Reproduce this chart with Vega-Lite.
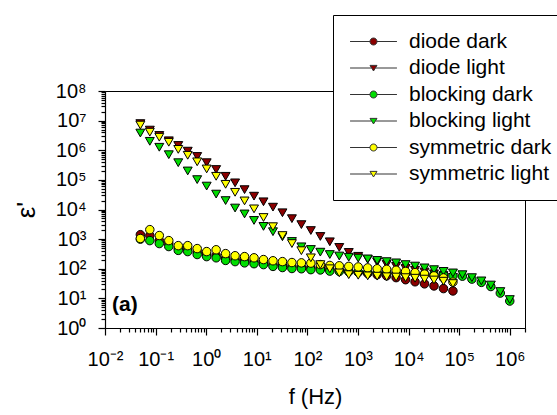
{
"$schema": "https://vega.github.io/schema/vega-lite/v6.json",
"width": 420, "height": 237,
"autosize": {"type": "none"},
"padding": {"left": 105, "top": 91, "right": 32, "bottom": 87},
"background": "white",
"config": {"view": {"stroke": "black", "strokeWidth": 1}, "font": "Liberation Sans"},
"data": {"values": [
{"s":"diode dark","f":0.05,"e":1413},{"s":"diode dark","f":0.0769,"e":1318},{"s":"diode dark","f":0.1184,"e":891},{"s":"diode dark","f":0.1823,"e":708},{"s":"diode dark","f":0.2805,"e":501},{"s":"diode dark","f":0.4315,"e":479},{"s":"diode dark","f":0.664,"e":372},{"s":"diode dark","f":1.022,"e":316},{"s":"diode dark","f":1.573,"e":282},{"s":"diode dark","f":2.42,"e":229},{"s":"diode dark","f":3.724,"e":209},{"s":"diode dark","f":5.731,"e":195},{"s":"diode dark","f":8.82,"e":178},{"s":"diode dark","f":13.57,"e":158},{"s":"diode dark","f":20.89,"e":141},{"s":"diode dark","f":32.14,"e":129},{"s":"diode dark","f":49.46,"e":120},{"s":"diode dark","f":76.12,"e":115},{"s":"diode dark","f":117.1,"e":110},{"s":"diode dark","f":180.3,"e":105},{"s":"diode dark","f":277.4,"e":95.5},{"s":"diode dark","f":426.9,"e":91.2},{"s":"diode dark","f":656.9,"e":83.2},{"s":"diode dark","f":1011,"e":75.9},{"s":"diode dark","f":1556,"e":69.2},{"s":"diode dark","f":2394,"e":63.1},{"s":"diode dark","f":3684,"e":57.5},{"s":"diode dark","f":5669,"e":50.1},{"s":"diode dark","f":8724,"e":42.7},{"s":"diode dark","f":13430,"e":36.3},{"s":"diode dark","f":20660,"e":30.9},{"s":"diode dark","f":31800,"e":26.3},{"s":"diode dark","f":48940,"e":21.4},{"s":"diode dark","f":75310,"e":17.8},
{"s":"diode light","f":0.05,"e":7940000},{"s":"diode light","f":0.0769,"e":4790000},{"s":"diode light","f":0.1184,"e":3160000},{"s":"diode light","f":0.1823,"e":2090000},{"s":"diode light","f":0.2805,"e":1450000},{"s":"diode light","f":0.4315,"e":933000},{"s":"diode light","f":0.664,"e":617000},{"s":"diode light","f":1.022,"e":380000},{"s":"diode light","f":1.573,"e":224000},{"s":"diode light","f":2.42,"e":132000},{"s":"diode light","f":3.724,"e":79400},{"s":"diode light","f":5.731,"e":46800},{"s":"diode light","f":8.82,"e":28200},{"s":"diode light","f":13.57,"e":18200},{"s":"diode light","f":20.89,"e":12000},{"s":"diode light","f":32.14,"e":7760},{"s":"diode light","f":49.46,"e":4900},{"s":"diode light","f":76.12,"e":3090},{"s":"diode light","f":117.1,"e":1950},{"s":"diode light","f":180.3,"e":1230},{"s":"diode light","f":277.4,"e":813},{"s":"diode light","f":426.9,"e":525},{"s":"diode light","f":656.9,"e":355},{"s":"diode light","f":1011,"e":263},{"s":"diode light","f":1556,"e":209},{"s":"diode light","f":2394,"e":170},{"s":"diode light","f":3684,"e":141},{"s":"diode light","f":5669,"e":120},{"s":"diode light","f":8724,"e":102},{"s":"diode light","f":13430,"e":89.1},{"s":"diode light","f":20660,"e":77.6},{"s":"diode light","f":31800,"e":67.6},{"s":"diode light","f":48940,"e":58.9},{"s":"diode light","f":75310,"e":51.3},
{"s":"blocking dark","f":0.05,"e":1000},{"s":"blocking dark","f":0.0769,"e":891},{"s":"blocking dark","f":0.1184,"e":708},{"s":"blocking dark","f":0.1823,"e":562},{"s":"blocking dark","f":0.2805,"e":417},{"s":"blocking dark","f":0.4315,"e":380},{"s":"blocking dark","f":0.664,"e":302},{"s":"blocking dark","f":1.022,"e":257},{"s":"blocking dark","f":1.573,"e":234},{"s":"blocking dark","f":2.42,"e":191},{"s":"blocking dark","f":3.724,"e":174},{"s":"blocking dark","f":5.731,"e":158},{"s":"blocking dark","f":8.82,"e":148},{"s":"blocking dark","f":13.57,"e":138},{"s":"blocking dark","f":20.89,"e":120},{"s":"blocking dark","f":32.14,"e":110},{"s":"blocking dark","f":49.46,"e":102},{"s":"blocking dark","f":76.12,"e":100},{"s":"blocking dark","f":117.1,"e":93.3},{"s":"blocking dark","f":180.3,"e":91.2},{"s":"blocking dark","f":277.4,"e":83.2},{"s":"blocking dark","f":426.9,"e":81.3},{"s":"blocking dark","f":656.9,"e":79.4},{"s":"blocking dark","f":1011,"e":77.6},{"s":"blocking dark","f":1556,"e":75.9},{"s":"blocking dark","f":2394,"e":74.1},{"s":"blocking dark","f":3684,"e":72.4},{"s":"blocking dark","f":5669,"e":70.8},{"s":"blocking dark","f":8724,"e":69.2},{"s":"blocking dark","f":13430,"e":67.6},{"s":"blocking dark","f":20660,"e":66.1},{"s":"blocking dark","f":31800,"e":64.6},{"s":"blocking dark","f":48940,"e":61.7},{"s":"blocking dark","f":75310,"e":57.5},{"s":"blocking dark","f":115900,"e":56.2},{"s":"blocking dark","f":178400,"e":44.7},{"s":"blocking dark","f":274500,"e":34.7},{"s":"blocking dark","f":422400,"e":25.1},{"s":"blocking dark","f":650100,"e":15.1},{"s":"blocking dark","f":1000000,"e":8.13},
{"s":"blocking light","f":0.05,"e":3800000},{"s":"blocking light","f":0.0769,"e":2000000},{"s":"blocking light","f":0.1184,"e":1260000},{"s":"blocking light","f":0.1823,"e":708000},{"s":"blocking light","f":0.2805,"e":380000},{"s":"blocking light","f":0.4315,"e":200000},{"s":"blocking light","f":0.664,"e":102000},{"s":"blocking light","f":1.022,"e":61700},{"s":"blocking light","f":1.573,"e":33100},{"s":"blocking light","f":2.42,"e":20000},{"s":"blocking light","f":3.724,"e":11200},{"s":"blocking light","f":5.731,"e":7080},{"s":"blocking light","f":8.82,"e":4270},{"s":"blocking light","f":13.57,"e":2690},{"s":"blocking light","f":20.89,"e":1780},{"s":"blocking light","f":32.14,"e":1200},{"s":"blocking light","f":49.46,"e":832},{"s":"blocking light","f":76.12,"e":550},{"s":"blocking light","f":117.1,"e":447},{"s":"blocking light","f":180.3,"e":363},{"s":"blocking light","f":277.4,"e":302},{"s":"blocking light","f":426.9,"e":269},{"s":"blocking light","f":656.9,"e":245},{"s":"blocking light","f":1011,"e":229},{"s":"blocking light","f":1556,"e":214},{"s":"blocking light","f":2394,"e":191},{"s":"blocking light","f":3684,"e":174},{"s":"blocking light","f":5669,"e":158},{"s":"blocking light","f":8724,"e":138},{"s":"blocking light","f":13430,"e":123},{"s":"blocking light","f":20660,"e":107},{"s":"blocking light","f":31800,"e":93.3},{"s":"blocking light","f":48940,"e":81.3},{"s":"blocking light","f":75310,"e":72.4},{"s":"blocking light","f":115900,"e":63.1},{"s":"blocking light","f":178400,"e":50.1},{"s":"blocking light","f":274500,"e":38.9},{"s":"blocking light","f":422400,"e":28.2},{"s":"blocking light","f":650100,"e":17.0},{"s":"blocking light","f":1000000,"e":9.12},
{"s":"symmetric dark","f":0.05,"e":1050},{"s":"symmetric dark","f":0.0769,"e":2090},{"s":"symmetric dark","f":0.1184,"e":1320},{"s":"symmetric dark","f":0.1823,"e":891},{"s":"symmetric dark","f":0.2805,"e":603},{"s":"symmetric dark","f":0.4315,"e":603},{"s":"symmetric dark","f":0.664,"e":479},{"s":"symmetric dark","f":1.022,"e":380},{"s":"symmetric dark","f":1.573,"e":437},{"s":"symmetric dark","f":2.42,"e":324},{"s":"symmetric dark","f":3.724,"e":275},{"s":"symmetric dark","f":5.731,"e":257},{"s":"symmetric dark","f":8.82,"e":234},{"s":"symmetric dark","f":13.57,"e":204},{"s":"symmetric dark","f":20.89,"e":186},{"s":"symmetric dark","f":32.14,"e":174},{"s":"symmetric dark","f":49.46,"e":162},{"s":"symmetric dark","f":76.12,"e":158},{"s":"symmetric dark","f":117.1,"e":155},{"s":"symmetric dark","f":180.3,"e":138},{"s":"symmetric dark","f":277.4,"e":129},{"s":"symmetric dark","f":426.9,"e":126},{"s":"symmetric dark","f":656.9,"e":120},{"s":"symmetric dark","f":1011,"e":115},{"s":"symmetric dark","f":1556,"e":107},{"s":"symmetric dark","f":2394,"e":100},{"s":"symmetric dark","f":3684,"e":95.5},{"s":"symmetric dark","f":5669,"e":89.1},{"s":"symmetric dark","f":8724,"e":81.3},{"s":"symmetric dark","f":13430,"e":74.1},{"s":"symmetric dark","f":20660,"e":66.1},{"s":"symmetric dark","f":31800,"e":57.5},{"s":"symmetric dark","f":48940,"e":49.0},{"s":"symmetric dark","f":75310,"e":35.5},
{"s":"symmetric light","f":0.05,"e":7080000},{"s":"symmetric light","f":0.0769,"e":4070000},{"s":"symmetric light","f":0.1184,"e":2750000},{"s":"symmetric light","f":0.1823,"e":1860000},{"s":"symmetric light","f":0.2805,"e":1070000},{"s":"symmetric light","f":0.4315,"e":676000},{"s":"symmetric light","f":0.664,"e":407000},{"s":"symmetric light","f":1.022,"e":234000},{"s":"symmetric light","f":1.573,"e":132000},{"s":"symmetric light","f":2.42,"e":70800},{"s":"symmetric light","f":3.724,"e":38000},{"s":"symmetric light","f":5.731,"e":19500},{"s":"symmetric light","f":8.82,"e":10500},{"s":"symmetric light","f":13.57,"e":5370},{"s":"symmetric light","f":20.89,"e":2630},{"s":"symmetric light","f":32.14,"e":1320},{"s":"symmetric light","f":49.46,"e":708},{"s":"symmetric light","f":76.12,"e":407},{"s":"symmetric light","f":117.1,"e":234},{"s":"symmetric light","f":180.3,"e":138},{"s":"symmetric light","f":277.4,"e":100},{"s":"symmetric light","f":426.9,"e":72.4},{"s":"symmetric light","f":656.9,"e":63.1},{"s":"symmetric light","f":1011,"e":60.3},{"s":"symmetric light","f":1556,"e":57.5},{"s":"symmetric light","f":2394,"e":56.2},{"s":"symmetric light","f":3684,"e":53.7},{"s":"symmetric light","f":5669,"e":52.5},{"s":"symmetric light","f":8724,"e":50.1},{"s":"symmetric light","f":13430,"e":47.9},{"s":"symmetric light","f":20660,"e":44.7},{"s":"symmetric light","f":31800,"e":41.7},{"s":"symmetric light","f":48940,"e":38.0},{"s":"symmetric light","f":75310,"e":31.6}
]},
"encoding": {
"x": {"field": "f", "type": "quantitative",
 "scale": {"type": "log", "domain": [0.01, 2000000], "nice": false},
 "axis": {
  "values": [0.01,0.02,0.03,0.04,0.05,0.06,0.07,0.08,0.09,0.1,0.2,0.3,0.4,0.5,0.6,0.7,0.8,0.9,1,2,3,4,5,6,7,8,9,10,20,30,40,50,60,70,80,90,100,200,300,400,500,600,700,800,900,1000,2000,3000,4000,5000,6000,7000,8000,9000,10000,20000,30000,40000,50000,60000,70000,80000,90000,100000,200000,300000,400000,500000,600000,700000,800000,900000,1000000,2000000],
  "labelExpr": "abs(log(datum.value)/LN10 - round(log(datum.value)/LN10)) < 0.001 ? '10' + ['⁻²','⁻¹','⁰','¹','²','³','⁴','⁵','⁶','⁷','⁸'][round(log(datum.value)/LN10)+2] : ''",
  "tickSize": {"condition": {"test": "abs(log(datum.value)/LN10 - round(log(datum.value)/LN10)) < 0.001", "value": 7}, "value": 4},
  "tickColor": "black", "tickWidth": 1.2, "domainColor": "black", "domainWidth": 1.2,
  "labelFontSize": 20, "labelColor": "black", "labelFont": "Liberation Sans", "labelPadding": 14,
  "labelOverlap": false, "labelFlush": false, "grid": false,
  "title": "f (Hz)", "titleFontSize": 22, "titleFontWeight": "normal", "titleColor": "black", "titleFont": "Liberation Sans", "titlePadding": 17
 }},
"y": {"field": "e", "type": "quantitative",
 "scale": {"type": "log", "domain": [1, 100000000], "nice": false},
 "axis": {
  "values": [1,2,3,4,5,6,7,8,9,10,20,30,40,50,60,70,80,90,100,200,300,400,500,600,700,800,900,1000,2000,3000,4000,5000,6000,7000,8000,9000,10000,20000,30000,40000,50000,60000,70000,80000,90000,100000,200000,300000,400000,500000,600000,700000,800000,900000,1000000,2000000,3000000,4000000,5000000,6000000,7000000,8000000,9000000,10000000,20000000,30000000,40000000,50000000,60000000,70000000,80000000,90000000,100000000],
  "labelExpr": "abs(log(datum.value)/LN10 - round(log(datum.value)/LN10)) < 0.001 ? '10' + ['⁻²','⁻¹','⁰','¹','²','³','⁴','⁵','⁶','⁷','⁸'][round(log(datum.value)/LN10)+2] : ''",
  "tickSize": {"condition": {"test": "abs(log(datum.value)/LN10 - round(log(datum.value)/LN10)) < 0.001", "value": 7}, "value": 4},
  "tickColor": "black", "tickWidth": 1.2, "domainColor": "black", "domainWidth": 1.2,
  "labelFontSize": 20, "labelColor": "black", "labelFont": "Liberation Sans", "labelPadding": 12,
  "labelOverlap": false, "labelFlush": false, "grid": false,
  "title": "ε'", "titleFontSize": 26, "titleFontWeight": "normal", "titleColor": "black", "titleFont": "Liberation Sans", "titlePadding": 16
 }},
"color": {"field": "s", "type": "nominal",
 "scale": {"domain": ["diode dark","diode light","blocking dark","blocking light","symmetric dark","symmetric light"], "range": ["#8b0000","#8b0000","#00dd00","#00dd00","#ffff00","#ffff00"]},
 "legend": {"orient": "none", "legendX": 228, "legendY": -76, "title": null, "padding": 16, "strokeColor": "black", "fillColor": "white",
  "labelFontSize": 21, "labelFont": "Liberation Sans", "labelColor": "black", "labelLimit": 400, "rowPadding": 4.5,
  "symbolSize": 49, "symbolOffset": 14, "labelOffset": 25, "symbolStrokeWidth": 1, "symbolOpacity": 1, "symbolStrokeColor": "#333", "symbolFillColor": "white"}}
},
"layer": [
{"transform": [{"filter": "datum.s == 'diode dark'"}], "mark": {"type": "point", "shape": "circle", "filled": true, "stroke": "black", "strokeWidth": 1, "opacity": 1, "size": 72}},
{"transform": [{"filter": "datum.s == 'diode light'"}], "mark": {"type": "point", "shape": "triangle-down", "filled": true, "stroke": "black", "strokeWidth": 1, "opacity": 1, "size": 80}},
{"transform": [{"filter": "datum.s == 'blocking dark'"}], "mark": {"type": "point", "shape": "circle", "filled": true, "stroke": "black", "strokeWidth": 1, "opacity": 1, "size": 72}},
{"transform": [{"filter": "datum.s == 'blocking light'"}], "mark": {"type": "point", "shape": "triangle-down", "filled": true, "stroke": "black", "strokeWidth": 1, "opacity": 1, "size": 80}},
{"transform": [{"filter": "datum.s == 'symmetric dark'"}], "mark": {"type": "point", "shape": "circle", "filled": true, "stroke": "black", "strokeWidth": 1, "opacity": 1, "size": 72}},
{"transform": [{"filter": "datum.s == 'symmetric light'"}], "mark": {"type": "point", "shape": "triangle-down", "filled": true, "stroke": "black", "strokeWidth": 1, "opacity": 1, "size": 80}},
{"mark": {"type": "point", "filled": true, "opacity": 0, "size": 49, "stroke": "#333", "strokeWidth": 1},
 "encoding": {"shape": {"field": "s", "type": "nominal",
  "scale": {"domain": ["diode dark","diode light","blocking dark","blocking light","symmetric dark","symmetric light"],
   "range": ["M-6.7,0L-1,0M1,0L6.7,0M-1,0A1,1,0,1,1,1,0A1,1,0,1,1,-1,0Z","M-6.7,0L-0.55,0M0.55,0L6.7,0M-1,-0.75L1,-0.75L0,0.85Z","M-6.7,0L-1,0M1,0L6.7,0M-1,0A1,1,0,1,1,1,0A1,1,0,1,1,-1,0Z","M-6.7,0L-0.55,0M0.55,0L6.7,0M-1,-0.75L1,-0.75L0,0.85Z","M-6.7,0L-1,0M1,0L6.7,0M-1,0A1,1,0,1,1,1,0A1,1,0,1,1,-1,0Z","M-6.7,0L-0.55,0M0.55,0L6.7,0M-1,-0.75L1,-0.75L0,0.85Z"]},
  "legend": {"orient": "none", "legendX": 228, "legendY": -76, "title": null, "padding": 16, "strokeColor": "black", "fillColor": "white",
   "labelFontSize": 21, "labelFont": "Liberation Sans", "labelColor": "black", "labelLimit": 400, "rowPadding": 4.5,
   "symbolSize": 49, "symbolOffset": 14, "labelOffset": 25, "symbolStrokeWidth": 1, "symbolOpacity": 1, "symbolStrokeColor": "#333", "symbolFillColor": "white"}}}},
{
"data": {"values": [{"f": 0.0138, "e": 6, "t": "(a)"}]},
"mark": {"type": "text", "align": "left", "baseline": "middle", "fontSize": 21, "fontWeight": "bold", "font": "Liberation Sans"},
"encoding": {
 "color": {"value": "black"},
 "text": {"field": "t"}
}
}
]
}
